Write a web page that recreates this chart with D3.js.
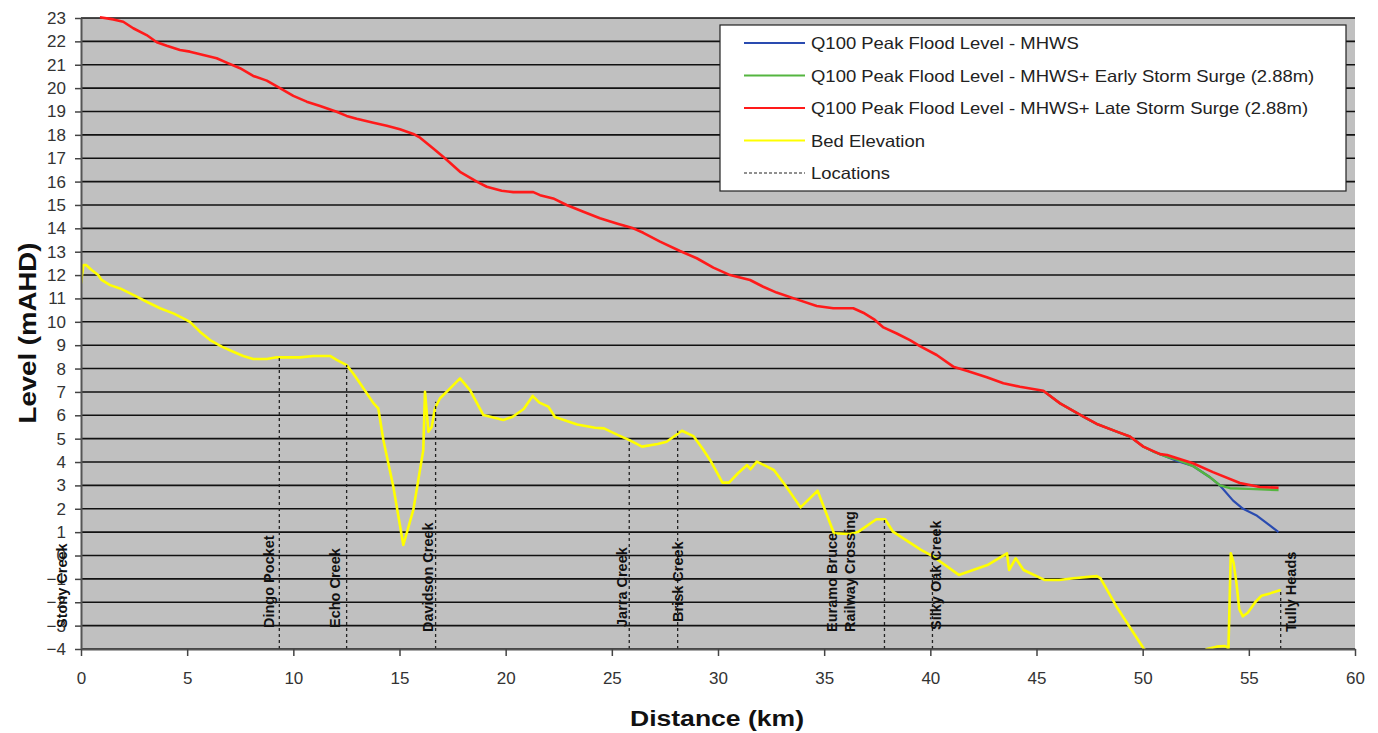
<!DOCTYPE html>
<html>
<head>
<meta charset="utf-8">
<script src="https://cdn.jsdelivr.net/npm/d3@7"></script>
<style>
  body { margin: 0; background: #fff; }
  svg { display: block; font-family: "Liberation Sans", Arial, sans-serif; }
</style>
</head>
<body>
<svg id="chart" width="1378" height="733"></svg>
<script>
// Long section of the Tully River: flood levels and bed elevation (m AHD) vs distance (km)

const distanceTicks = [0, 5, 10, 15, 20, 25, 30, 35, 40, 45, 50, 55, 60];
const levelTicks = [-4, -3, -2, -1, 0, 1, 2, 3, 4, 5, 6, 7, 8, 9, 10, 11, 12, 13, 14, 15, 16, 17, 18, 19, 20, 21, 22, 23];

// [distance km, level mAHD]
const bedElevation = [
  [0, 11.65], [0.11, 12.43], [0.24, 12.43], [0.5, 12.22], [0.81, 12.0], [0.97, 11.79], [1.37, 11.57],
  [1.84, 11.43], [2.46, 11.15], [3.09, 10.86], [3.72, 10.58], [4.35, 10.36], [4.82, 10.15], [5.13, 10.0],
  [5.6, 9.58], [6.08, 9.22], [6.63, 8.94], [7.17, 8.72], [7.64, 8.54], [8.11, 8.41], [8.75, 8.41],
  [9.22, 8.48], [10.31, 8.48], [10.94, 8.54], [11.73, 8.54], [12.04, 8.37], [12.51, 8.15], [12.82, 7.79],
  [13.14, 7.37], [13.77, 6.52], [14.0, 6.3], [14.24, 4.94], [14.71, 2.94], [15.18, 0.45], [15.65, 1.95],
  [16.12, 4.51], [16.2, 7.01], [16.36, 5.3], [16.52, 5.51], [16.67, 6.3], [16.91, 6.73], [17.3, 7.08],
  [17.85, 7.58], [18.32, 7.08], [18.95, 6.01], [19.89, 5.8], [20.33, 5.94], [20.85, 6.27], [21.27, 6.83],
  [21.59, 6.54], [22.01, 6.37], [22.32, 5.93], [23.37, 5.61], [24.21, 5.47], [24.63, 5.44], [25.27, 5.16],
  [25.83, 4.94], [26.42, 4.66], [27.16, 4.77], [27.58, 4.87], [28.3, 5.34], [28.84, 5.11], [29.26, 4.59],
  [29.67, 4.02], [30.21, 3.12], [30.52, 3.12], [30.94, 3.52], [31.37, 3.87], [31.53, 3.69], [31.83, 4.02],
  [32.63, 3.66], [33.16, 3.02], [33.89, 2.06], [34.69, 2.77], [35.04, 1.95], [35.46, 0.95], [36.2, 0.92],
  [36.62, 1.02], [37.46, 1.55], [37.87, 1.55], [38.24, 1.02], [39.56, 0.24], [40.15, -0.05], [41.34, -0.83],
  [42.69, -0.41], [43.61, 0.09], [43.71, -0.62], [44.02, -0.12], [44.39, -0.62], [45.4, -1.05], [46.07, -1.05],
  [46.74, -0.97], [47.84, -0.88], [48.01, -0.97], [48.77, -2.19], [50.04, -3.97], [50.6, -4.5], [51.3, -4.8],
  [52.0, -4.7], [52.6, -4.3], [53.02, -4.0], [53.49, -3.9], [53.88, -3.87], [54.04, -3.97], [54.15, 0.1],
  [54.28, -0.3], [54.42, -1.2], [54.55, -2.3], [54.72, -2.6], [54.95, -2.45], [55.3, -2.0], [55.6, -1.72],
  [56.0, -1.62], [56.5, -1.48]
];

const lateSurge = [
  [0.89, 23.03], [1.52, 22.94], [1.99, 22.84], [2.46, 22.56], [3.09, 22.27], [3.57, 21.96], [4.04, 21.81],
  [4.66, 21.63], [5.13, 21.56], [5.76, 21.42], [6.39, 21.28], [6.86, 21.09], [7.49, 20.85], [8.11, 20.52],
  [8.75, 20.32], [9.37, 20.0], [10.0, 19.67], [10.63, 19.42], [11.26, 19.23], [12.04, 18.99], [12.51, 18.81],
  [12.98, 18.69], [13.77, 18.52], [14.4, 18.39], [15.02, 18.24], [15.65, 18.04], [15.97, 17.88], [16.59, 17.42],
  [17.14, 17.0], [17.85, 16.42], [18.64, 16.0], [19.11, 15.78], [19.81, 15.61], [20.36, 15.55], [21.3, 15.55],
  [21.62, 15.42], [22.24, 15.28], [22.87, 15.0], [23.66, 14.71], [24.44, 14.43], [25.23, 14.21], [26.01, 14.0],
  [26.48, 13.81], [27.27, 13.43], [28.21, 13.03], [29.0, 12.72], [29.78, 12.32], [30.57, 12.0], [31.51, 11.79],
  [32.13, 11.5], [32.76, 11.25], [33.71, 10.96], [34.65, 10.68], [35.43, 10.58], [36.37, 10.58], [36.84, 10.39],
  [37.39, 10.08], [37.79, 9.76], [38.42, 9.5], [39.04, 9.22], [39.51, 8.96], [40.3, 8.58], [41.08, 8.08],
  [41.71, 7.91], [42.66, 7.63], [43.44, 7.37], [44.22, 7.22], [45.32, 7.05], [46.11, 6.51], [47.21, 5.94],
  [47.84, 5.63], [48.78, 5.3], [49.4, 5.09], [50.03, 4.66], [50.82, 4.34], [51.15, 4.3], [52.37, 3.95],
  [53.31, 3.57], [54.58, 3.1], [55.52, 2.93], [56.4, 2.9]
];

// Upstream of ~45 km the three flood profiles coincide with the late-surge profile
const earlySurge = [
  [45.32, 7.05], [46.11, 6.51], [47.21, 5.94], [47.84, 5.63], [48.78, 5.3], [49.4, 5.09], [50.03, 4.66],
  [50.5, 4.45], [51.15, 4.22], [51.62, 4.1], [52.37, 3.83], [53.17, 3.35], [53.64, 3.0], [54.11, 2.88],
  [55.0, 2.85], [56.4, 2.8]
];

const mhws = [
  [45.32, 7.05], [46.11, 6.51], [47.21, 5.94], [47.84, 5.63], [48.78, 5.3], [49.4, 5.09], [50.03, 4.66],
  [50.5, 4.45], [51.15, 4.22], [51.62, 4.05], [52.37, 3.83], [53.17, 3.35], [53.64, 3.0], [54.26, 2.35],
  [54.73, 2.0], [55.39, 1.7], [56.0, 1.28], [56.4, 1.0]
];

const locationNames = ["Stony Creek", "Dingo Pocket", "Echo Creek", "Davidson Creek", "Jarra Creek",
  "Brisk Creek", "Euramo Bruce|Railway Crossing", "Silky Oak Creek", "Tully Heads"];
const locationKm = [0, 9.34, 12.51, 16.7, 25.82, 28.1, 37.84, 40.1, 56.5];
const locationBed = [11.65, 8.48, 8.15, 6.58, 4.94, 5.34, 1.55, 0.02, -1.48];

// label placement: horizontal shift of the text baseline from its line, and the text's lower end
const labelShift = [-14, -5, -7, -3, -2, 5.5, -47.5, 9, 15];
const labelBottom = [628, 628, 628, 632, 627, 622, 632, 630, 632];

const seriesNames = [
  "Q100 Peak Flood Level - MHWS",
  "Q100 Peak Flood Level - MHWS+ Early Storm Surge (2.88m)",
  "Q100 Peak Flood Level - MHWS+ Late Storm Surge (2.88m)",
  "Bed Elevation",
  "Locations"
];

const svg = d3.select("#chart");
const plotLeft = 81, plotRight = 1355, plotTop = 18, plotBottom = 649;

const x = d3.scaleLinear().domain([0, 60]).range([plotLeft, plotRight]);
const y = d3.scaleLinear().domain([-4, 23]).range([plotBottom, plotTop]);

// plot background
svg.append("rect").attr("x", plotLeft).attr("y", plotTop)
  .attr("width", plotRight - plotLeft).attr("height", plotBottom - plotTop).attr("fill", "#c0c0c0");

// horizontal gridlines
svg.append("g").selectAll("line").data(levelTicks).join("line")
  .attr("x1", plotLeft).attr("x2", plotRight)
  .attr("y1", d => y(d)).attr("y2", d => y(d))
  .attr("stroke", "#111").attr("stroke-width", 1.6);

svg.append("defs").append("clipPath").attr("id", "plotClip")
  .append("rect").attr("x", plotLeft).attr("y", plotTop - 2)
  .attr("width", plotRight - plotLeft).attr("height", plotBottom - plotTop + 2);

const plot = svg.append("g").attr("clip-path", "url(#plotClip)");
const line = d3.line().x(d => x(d[0])).y(d => y(d[1]));

// bed
plot.append("path").datum(bedElevation).attr("d", line)
  .attr("fill", "none").attr("stroke", "#ffff00").attr("stroke-width", 2.6)
  .attr("stroke-linejoin", "round");

// location markers
plot.append("g").selectAll("line").data(locationKm).join("line")
  .attr("x1", d => x(d)).attr("x2", d => x(d))
  .attr("y1", y(-4)).attr("y2", (d, i) => y(locationBed[i]))
  .attr("stroke", "#222").attr("stroke-width", 1.3).attr("stroke-dasharray", "3,3");

// flood profiles
const flood = [
  { data: mhws, color: "#2a4bb0", w: 2.2 },
  { data: earlySurge, color: "#55b540", w: 2.4 },
  { data: lateSurge, color: "#ff1a1a", w: 2.6 }
];
flood.forEach(s => {
  plot.append("path").datum(s.data).attr("d", line)
    .attr("fill", "none").attr("stroke", s.color).attr("stroke-width", s.w)
    .attr("stroke-linejoin", "round");
});

// axes
const yAxis = svg.append("g").attr("transform", `translate(${plotLeft},0)`)
  .call(d3.axisLeft(y).tickValues(levelTicks).tickFormat(d3.format("d"))
    .tickSize(6).tickSizeOuter(0).tickPadding(9));
const xAxis = svg.append("g").attr("transform", `translate(0,${plotBottom})`)
  .call(d3.axisBottom(x).tickValues(distanceTicks).tickFormat(d3.format("d"))
    .tickSize(7).tickSizeOuter(0).tickPadding(16));
[yAxis, xAxis].forEach(a => {
  a.select(".domain").attr("stroke", "#555").attr("stroke-width", 2);
  a.selectAll(".tick line").attr("stroke", "#444").attr("stroke-width", 1.5);
  a.selectAll(".tick text").attr("fill", "#333").attr("font-size", 17)
    .attr("font-family", "'Liberation Sans', Arial, sans-serif");
});

// location labels
const labels = svg.append("g").attr("font-weight", "bold").attr("font-size", 14.5).attr("fill", "#111");
locationNames.forEach((name, i) => {
  const t = labels.append("text")
    .attr("transform", `translate(${x(locationKm[i]) + labelShift[i]},${labelBottom[i]}) rotate(-90)`);
  name.split("|").forEach((part, j) => {
    t.append("tspan").attr("x", 0).attr("dy", j === 0 ? 0 : 18.5).text(part);
  });
});

// axis titles
svg.append("text").attr("transform", "translate(717,726) scale(1.18,1)")
  .attr("text-anchor", "middle").attr("font-weight", "bold").attr("font-size", 22.5)
  .attr("fill", "#111").text("Distance (km)");
svg.append("text").attr("transform", "translate(36,333) rotate(-90) scale(1.2,1)")
  .attr("text-anchor", "middle").attr("font-weight", "bold").attr("font-size", 23)
  .attr("fill", "#111").text("Level (mAHD)");

// legend
const legend = svg.append("g");
legend.append("rect").attr("x", 720).attr("y", 25).attr("width", 626).attr("height", 166)
  .attr("fill", "#fff").attr("stroke", "#222").attr("stroke-width", 1.2);
const legendColors = ["#2a4bb0", "#55b540", "#ff1a1a", "#ffff00", "#222"];
seriesNames.forEach((name, i) => {
  const cy = 43 + i * 32.5;
  legend.append("line").attr("x1", 744).attr("x2", 805).attr("y1", cy).attr("y2", cy)
    .attr("stroke", legendColors[i]).attr("stroke-width", i === 4 ? 1.2 : 2.2)
    .attr("stroke-dasharray", i === 4 ? "3,2" : null);
  legend.append("text").attr("transform", `translate(811,${cy + 6}) scale(1.12,1)`)
    .attr("font-size", 16.5).attr("fill", "#222").text(name);
});
</script>
</body>
</html>
